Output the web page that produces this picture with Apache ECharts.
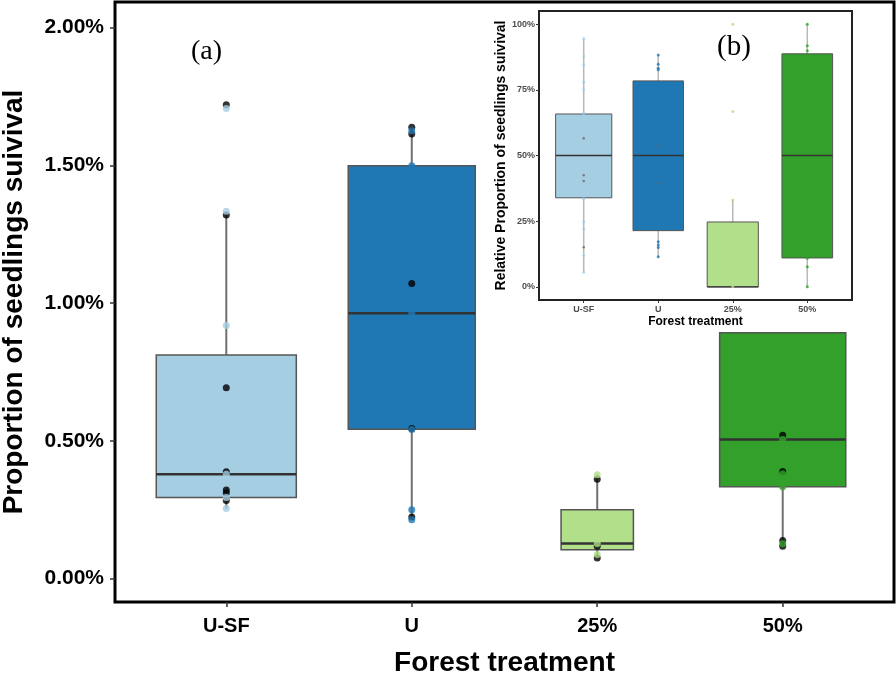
<!DOCTYPE html>
<html><head><meta charset="utf-8">
<script src="https://cdn.jsdelivr.net/npm/echarts@6/dist/echarts.min.js"></script>
<style>html,body{margin:0;padding:0;background:#fff}#c{width:896px;height:674px}</style>
</head><body><div id="c"></div>
<script>
// ---------- data ----------
const categories = ['U-SF', 'U', '25%', '50%'];
const palette = ['#a6cee3', '#1f78b4', '#b2df8a', '#33a02c'];

// (a) main panel, proportion of seedlings survival (%)
const mainLow    = [0.254, 0.214, 0.075, 0.117];
const mainQ1     = [0.294, 0.542, 0.105, 0.333];
const mainMedian = [0.379, 0.963, 0.127, 0.505];
const mainQ3     = [0.812, 1.499, 0.250, 0.892];
const mainHigh   = [1.330, 1.638, 0.377, 0.892];
const mainPointsBlack = [
  [1.720, 1.320, 0.693, 0.388, 0.322, 0.312, 0.283],
  [1.638, 1.614, 1.071, 0.545, 0.224],
  [0.361, 0.117, 0.075],
  [0.520, 0.389, 0.138, 0.117]
];
const mainPointsColored = [
  [1.706, 1.333, 0.919, 0.379, 0.294, 0.254],
  [1.626, 1.499, 0.963, 0.541, 0.250, 0.214],
  [0.377, 0.127, 0.087],
  [0.505, 0.380, 0.333, 0.126]
];
const mainTicks = [0, 0.5, 1.0, 1.5, 2.0];

// (b) inset, relative proportion (%)
const insetLow    = [5.6, 11.5, 0, 0];
const insetQ1     = [33.9, 21.4, 0, 11.0];
const insetMedian = [50, 50, 0, 50];
const insetQ3     = [65.8, 78.4, 24.7, 88.7];
const insetHigh   = [94.4, 88.3, 33.1, 100];
const insetPointsColored = [
  [94.4, 87.9, 84.5, 77.9, 75.0, 66.1, 33.5, 24.8, 22.0, 11.9, 5.6],
  [88.3, 84.7, 83.2, 82.6, 17.2, 15.9, 15.0, 11.5],
  [100, 66.7, 33.1, 0],
  [100, 91.8, 89.9, 10.9, 7.7, 0]
];
const insetPointsGray = [
  [56.6, 42.5, 40.3, 15.1],
  [53.4, 39.4],
  [],
  []
];
const insetTicks = [0, 25, 50, 75, 100];

// box widths (varwidth, in category units)
const mainBoxWidth  = [0.755, 0.685, 0.39, 0.68];
const insetBoxWidth = [0.754, 0.677, 0.686, 0.68];

// ---------- helpers ----------
const FONT = '"Liberation Sans", Arial, sans-serif';
const catPos = categories.map((c, i) => i + 1);

function boxData(low, q1, med, q3, high, widths) {
  return categories.map((c, i) => [catPos[i], low[i], q1[i], med[i], q3[i], high[i], widths[i], i]);
}
function pointData(groups) {
  const out = [];
  groups.forEach((g, i) => g.forEach(v => out.push([catPos[i], v, i])));
  return out;
}
function boxRenderer(st) {
  return function (params, api) {
    const x = api.value(0);
    const pLo = api.coord([x, api.value(1)]);
    const pQ1 = api.coord([x, api.value(2)]);
    const pMd = api.coord([x, api.value(3)]);
    const pQ3 = api.coord([x, api.value(4)]);
    const pHi = api.coord([x, api.value(5)]);
    const half = api.size([api.value(6), 0])[0] / 2;
    const col = palette[api.value(7)];
    return {
      type: 'group',
      children: [
        { type: 'line', shape: { x1: pHi[0], y1: pHi[1], x2: pQ3[0], y2: pQ3[1] },
          style: { stroke: st.whisker, lineWidth: st.whiskerWidth } },
        { type: 'line', shape: { x1: pQ1[0], y1: pQ1[1], x2: pLo[0], y2: pLo[1] },
          style: { stroke: st.whisker, lineWidth: st.whiskerWidth } },
        { type: 'rect', shape: { x: pQ3[0] - half, y: pQ3[1], width: half * 2, height: pQ1[1] - pQ3[1] },
          style: { fill: col, stroke: st.border, lineWidth: st.borderWidth } },
        { type: 'line', shape: { x1: pMd[0] - half, y1: pMd[1], x2: pMd[0] + half, y2: pMd[1] },
          style: { stroke: '#333', lineWidth: st.medianWidth } }
      ]
    };
  };
}

const chart = echarts.init(document.getElementById('c'), null, { renderer: 'canvas' });

const option = {
  animation: false,
  backgroundColor: '#fff',
  grid: [
    { left: 115, top: 2, right: 2, bottom: 72, show: true, borderColor: '#000', borderWidth: 3,
      backgroundColor: '#fff', containLabel: false, outerBoundsMode: 'none' },
    { left: 539, top: 11, width: 313, height: 289, show: true, borderColor: '#222', borderWidth: 2,
      backgroundColor: '#fff', containLabel: false, outerBoundsMode: 'none' }
  ],
  xAxis: [
    {
      gridIndex: 0, type: 'value', min: 0.4, max: 4.6, position: 'bottom',
      axisLine: { show: false, onZero: false }, splitLine: { show: false },
      axisTick: { show: true, customValues: catPos, length: 5, lineStyle: { color: '#333', width: 1.5 } },
      axisLabel: { customValues: catPos, formatter: v => categories[Math.round(v) - 1],
        fontSize: 20, fontWeight: 'bold', color: '#000', fontFamily: FONT, margin: 14 },
      name: 'Forest treatment', nameLocation: 'middle', nameGap: 47,
      nameTextStyle: { fontSize: 28, fontWeight: 'bold', color: '#000', fontFamily: FONT }
    },
    {
      gridIndex: 1, type: 'value', min: 0.4, max: 4.6, position: 'bottom',
      axisLine: { show: false, onZero: false }, splitLine: { show: false },
      axisTick: { show: true, customValues: catPos, length: 3, lineStyle: { color: '#333', width: 1 } },
      axisLabel: { customValues: catPos, formatter: v => categories[Math.round(v) - 1],
        fontSize: 9, fontWeight: 'bold', color: '#4d4d4d', fontFamily: FONT, margin: 5 },
      name: 'Forest treatment', nameLocation: 'middle', nameGap: 16,
      nameTextStyle: { fontSize: 12, fontWeight: 'bold', color: '#000', fontFamily: FONT }
    }
  ],
  yAxis: [
    {
      gridIndex: 0, type: 'value', min: -0.085, max: 2.093, position: 'left',
      axisLine: { show: false, onZero: false }, splitLine: { show: false },
      axisTick: { show: true, customValues: mainTicks, length: 5, lineStyle: { color: '#333', width: 1.5 } },
      axisLabel: { customValues: mainTicks, formatter: v => v.toFixed(2) + '%',
        fontSize: 21, fontWeight: 'bold', color: '#000', fontFamily: FONT, margin: 11 },
      name: 'Proportion of seedlings suivival', nameLocation: 'middle', nameGap: 87,
      nameTextStyle: { fontSize: 28, fontWeight: 'bold', color: '#000', fontFamily: FONT }
    },
    {
      gridIndex: 1, type: 'value', min: -5, max: 105, position: 'left',
      axisLine: { show: false, onZero: false }, splitLine: { show: false },
      axisTick: { show: true, customValues: insetTicks, length: 3, lineStyle: { color: '#333', width: 1 } },
      axisLabel: { customValues: insetTicks, formatter: v => v + '%',
        fontSize: 9, fontWeight: 'bold', color: '#4d4d4d', fontFamily: FONT, margin: 4 },
      name: 'Relative Proportion of seedlings suivival', nameLocation: 'middle', nameGap: 23,
      nameTextStyle: { fontSize: 14, fontWeight: 'bold', color: '#000', fontFamily: FONT }
    }
  ],
  series: [
    {
      type: 'custom', xAxisIndex: 0, yAxisIndex: 0, z: 2,
      renderItem: boxRenderer({ whisker: '#707070', whiskerWidth: 2, border: '#555', borderWidth: 1.5, medianWidth: 2.5 }),
      encode: { x: 0, y: [1, 2, 3, 4, 5] },
      data: boxData(mainLow, mainQ1, mainMedian, mainQ3, mainHigh, mainBoxWidth)
    },
    {
      type: 'scatter', xAxisIndex: 0, yAxisIndex: 0, z: 3, symbolSize: 7,
      itemStyle: { color: '#000' }, data: pointData(mainPointsBlack)
    },
    {
      type: 'scatter', xAxisIndex: 0, yAxisIndex: 0, z: 4, symbolSize: 7,
      itemStyle: { color: p => palette[p.value[2]] }, data: pointData(mainPointsColored)
    },
    {
      type: 'custom', xAxisIndex: 1, yAxisIndex: 1, z: 2,
      renderItem: boxRenderer({ whisker: '#b8b8b8', whiskerWidth: 1.5, border: '#555', borderWidth: 1, medianWidth: 1.3 }),
      encode: { x: 0, y: [1, 2, 3, 4, 5] },
      data: boxData(insetLow, insetQ1, insetMedian, insetQ3, insetHigh, insetBoxWidth)
    },
    {
      type: 'scatter', xAxisIndex: 1, yAxisIndex: 1, z: 3, symbolSize: 2.5,
      itemStyle: { color: '#666' }, data: pointData(insetPointsGray)
    },
    {
      type: 'scatter', xAxisIndex: 1, yAxisIndex: 1, z: 4, symbolSize: 3,
      itemStyle: { color: p => palette[p.value[2]] }, data: pointData(insetPointsColored)
    }
  ],
  graphic: [
    { type: 'text', left: 191, top: 38, z: 10,
      style: { text: '(a)', font: '28px "Liberation Serif", serif', fill: '#000' } },
    { type: 'text', left: 717, top: 33, z: 10,
      style: { text: '(b)', font: '29px "Liberation Serif", serif', fill: '#000' } }
  ]
};
chart.setOption(option);
</script>
</body></html>
